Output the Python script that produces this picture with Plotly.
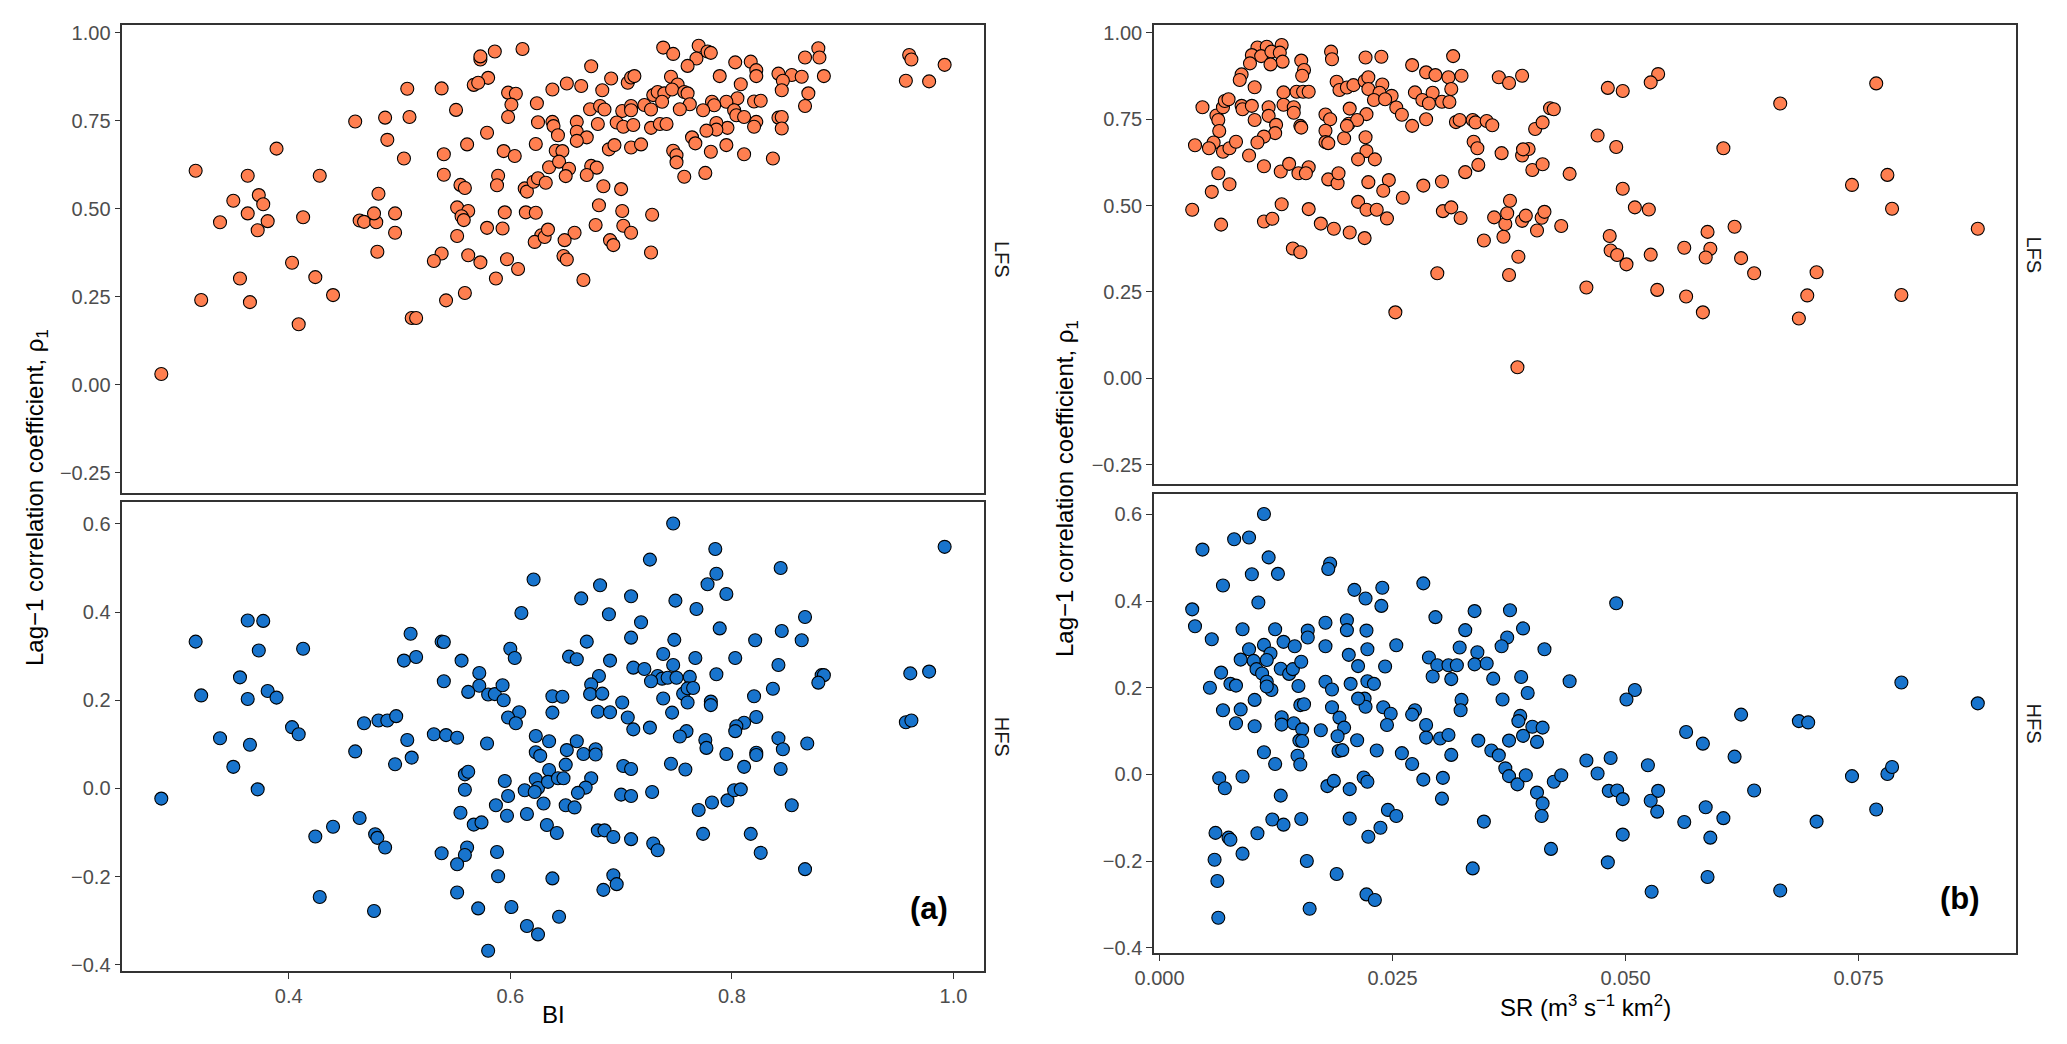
import plotly.graph_objects as go

# Panel (a): baseflow index (BI) vs lag-1 correlation
bi_lfs = [0.573, 0.573, 0.586, 0.611, 0.580, 0.567, 0.571, 0.507, 0.538, 0.598, 0.605, 0.601, 0.624, 0.551,
          0.598, 0.460, 0.487, 0.509, 0.625, 0.489, 0.579, 0.561, 0.623, 0.389, 0.540, 0.594, 0.604, 0.504,
          0.316, 0.363, 0.428, 0.540, 0.589, 0.588, 0.555, 0.559, 0.613, 0.615, 0.621, 0.625, 0.481, 0.373,
          0.350, 0.377, 0.363, 0.338, 0.381, 0.372, 0.413, 0.464, 0.468, 0.479, 0.477, 0.496, 0.496, 0.552,
          0.562, 0.556, 0.558, 0.595, 0.614, 0.623, 0.579, 0.593, 0.552, 0.628, 0.622, 0.631, 0.480, 0.538,
          0.531, 0.562, 0.573, 0.597, 0.607, 0.403, 0.356, 0.424, 0.587, 0.321, 0.365, 0.440, 0.542, 0.559,
          0.409, 0.511, 0.515, 0.285,
          0.738, 0.747, 0.770, 0.768, 0.778, 0.781, 0.760, 0.673, 0.803, 0.817, 0.822, 0.822, 0.789, 0.842,
          0.854, 0.863, 0.846, 0.878, 0.866, 0.879, 0.883, 0.845, 0.869, 0.866, 0.808, 0.805, 0.820, 0.826,
          0.795, 0.782, 0.784, 0.774, 0.802, 0.804, 0.811, 0.822, 0.820, 0.842, 0.845, 0.845, 0.796, 0.786,
          0.786, 0.777, 0.638, 0.651, 0.664, 0.683, 0.691, 0.706, 0.709, 0.712, 0.672, 0.681, 0.685, 0.701,
          0.709, 0.709, 0.721, 0.727, 0.729, 0.733, 0.739, 0.737, 0.745, 0.751, 0.746, 0.757, 0.760, 0.762,
          0.753, 0.638, 0.639, 0.643, 0.660, 0.660, 0.669, 0.660, 0.679, 0.696, 0.702, 0.711, 0.727, 0.735,
          0.741, 0.641, 0.647, 0.689, 0.694, 0.709, 0.718, 0.747, 0.750, 0.750, 0.764, 0.767, 0.781, 0.795,
          0.811, 0.837, 0.635, 0.644, 0.653, 0.673, 0.678, 0.669, 0.650, 0.632, 0.684, 0.700, 0.757, 0.776,
          0.680, 0.701, 0.728, 0.677, 0.702, 0.709, 0.634, 0.658, 0.649, 0.690, 0.693, 0.648, 0.651, 0.727,
          0.666, 0.960, 0.962, 0.992, 0.957, 0.978]
rho_bi_lfs = [0.924, 0.933, 0.947, 0.954, 0.872, 0.852, 0.858, 0.841, 0.842, 0.830, 0.827, 0.796, 0.800, 0.781,
              0.761, 0.748, 0.759, 0.761, 0.746, 0.696, 0.716, 0.683, 0.684, 0.671, 0.655, 0.664, 0.650, 0.643,
              0.608, 0.594, 0.594, 0.597, 0.594, 0.567, 0.568, 0.559, 0.558, 0.549, 0.577, 0.587, 0.543, 0.539,
              0.523, 0.513, 0.487, 0.462, 0.465, 0.439, 0.476, 0.467, 0.463, 0.462, 0.487, 0.487, 0.432, 0.504,
              0.494, 0.479, 0.468, 0.490, 0.490, 0.489, 0.446, 0.444, 0.423, 0.425, 0.406, 0.420, 0.378, 0.373,
              0.352, 0.368, 0.348, 0.357, 0.329, 0.347, 0.302, 0.306, 0.302, 0.241, 0.235, 0.255, 0.240, 0.261,
              0.172, 0.190, 0.190, 0.031,
              0.958, 0.940, 0.963, 0.927, 0.947, 0.943, 0.906, 0.905, 0.916, 0.918, 0.894, 0.877, 0.877, 0.884,
              0.880, 0.875, 0.864, 0.956, 0.930, 0.930, 0.877, 0.837, 0.828, 0.792, 0.854, 0.814, 0.805, 0.807,
              0.804, 0.804, 0.794, 0.780, 0.780, 0.766, 0.761, 0.747, 0.733, 0.759, 0.761, 0.728, 0.730, 0.744,
              0.725, 0.722, 0.839, 0.856, 0.849, 0.837, 0.870, 0.858, 0.873, 0.877, 0.783, 0.792, 0.782, 0.778,
              0.792, 0.780, 0.795, 0.782, 0.823, 0.832, 0.828, 0.804, 0.875, 0.853, 0.839, 0.832, 0.828, 0.797,
              0.783, 0.747, 0.735, 0.709, 0.747, 0.719, 0.703, 0.693, 0.741, 0.745, 0.733, 0.738, 0.730, 0.741,
              0.741, 0.665, 0.664, 0.669, 0.681, 0.674, 0.683, 0.665, 0.652, 0.632, 0.703, 0.686, 0.662, 0.681,
              0.655, 0.643, 0.618, 0.634, 0.614, 0.622, 0.617, 0.596, 0.593, 0.574, 0.564, 0.556, 0.591, 0.602,
              0.510, 0.494, 0.483, 0.454, 0.452, 0.432, 0.441, 0.432, 0.411, 0.411, 0.397, 0.366, 0.356, 0.376,
              0.298, 0.937, 0.924, 0.909, 0.864, 0.862]

bi_hfs = [0.621, 0.610, 0.363, 0.377, 0.316, 0.373, 0.413, 0.510, 0.538, 0.540, 0.504, 0.515, 0.556, 0.540,
          0.600, 0.604, 0.572, 0.572, 0.562, 0.580, 0.586, 0.593, 0.594, 0.608, 0.598, 0.605, 0.356, 0.321,
          0.363, 0.381, 0.389, 0.403, 0.409, 0.338, 0.365, 0.350, 0.372, 0.285, 0.468, 0.481, 0.489, 0.497,
          0.460, 0.507, 0.511, 0.496, 0.531, 0.542, 0.552, 0.579, 0.623, 0.623, 0.627, 0.623, 0.625, 0.613,
          0.622, 0.630, 0.559, 0.562, 0.559, 0.595, 0.598, 0.587, 0.597, 0.615, 0.555, 0.567, 0.574, 0.464,
          0.440, 0.424, 0.478, 0.480, 0.487, 0.538, 0.561, 0.559, 0.552, 0.588, 0.589, 0.428, 0.477, 0.552,
          0.571, 0.601, 0.615, 0.625, 0.580,
          0.747, 0.785, 0.726, 0.786, 0.778, 0.795, 0.681, 0.664, 0.709, 0.749, 0.768, 0.689, 0.718, 0.789,
          0.844, 0.866, 0.845, 0.821, 0.863, 0.669, 0.709, 0.748, 0.653, 0.660, 0.690, 0.738, 0.747, 0.767,
          0.803, 0.842, 0.786, 0.711, 0.721, 0.733, 0.737, 0.742, 0.750, 0.762, 0.727, 0.881, 0.883, 0.878,
          0.680, 0.673, 0.672, 0.683, 0.638, 0.647, 0.638, 0.679, 0.690, 0.701, 0.706, 0.711, 0.726, 0.738,
          0.746, 0.756, 0.760, 0.765, 0.760, 0.781, 0.781, 0.820, 0.837, 0.822, 0.811, 0.804, 0.803, 0.759,
          0.753, 0.635, 0.660, 0.651, 0.666, 0.677, 0.677, 0.650, 0.635, 0.634, 0.643, 0.648, 0.673, 0.668,
          0.661, 0.702, 0.709, 0.745, 0.758, 0.776, 0.777, 0.795, 0.822, 0.822, 0.842, 0.846, 0.868, 0.811,
          0.844, 0.650, 0.658, 0.700, 0.709, 0.728, 0.770, 0.782, 0.796, 0.802, 0.808, 0.854, 0.633, 0.642,
          0.679, 0.685, 0.693, 0.709, 0.729, 0.733, 0.774, 0.817, 0.826, 0.866, 0.638, 0.693, 0.696, 0.684,
          0.644, 0.992, 0.961, 0.978, 0.957, 0.962]
rho_bi_hfs = [0.474, 0.398, 0.381, 0.380, 0.333, 0.313, 0.317, 0.351, 0.333, 0.332, 0.290, 0.298, 0.290, 0.243,
              0.317, 0.296, 0.262, 0.233, 0.219, 0.213, 0.214, 0.234, 0.200, 0.173, 0.161, 0.148, 0.252, 0.211,
              0.203, 0.221, 0.206, 0.139, 0.123, 0.114, 0.099, 0.049, -0.002, -0.023, 0.148, 0.154, 0.154, 0.164,
              0.084, 0.110, 0.070, 0.055, 0.123, 0.121, 0.115, 0.102, 0.119, 0.082, 0.074, 0.021, 0.001, -0.004,
              -0.008, -0.034, 0.032, 0.038, -0.003, 0.017, -0.017, -0.038, -0.062, -0.058, -0.055, -0.082, -0.077, -0.067,
              -0.087, -0.109, -0.104, -0.112, -0.134, -0.147, -0.134, -0.151, -0.172, -0.144, -0.199, -0.246, -0.278, -0.236,
              -0.272, -0.269, -0.312, -0.331, -0.368,
              0.601, 0.543, 0.519, 0.487, 0.463, 0.441, 0.461, 0.431, 0.436, 0.426, 0.407, 0.395, 0.377, 0.363,
              0.500, 0.389, 0.357, 0.336, 0.336, 0.333, 0.342, 0.337, 0.299, 0.293, 0.290, 0.305, 0.280, 0.296,
              0.296, 0.280, 0.259, 0.274, 0.271, 0.255, 0.249, 0.251, 0.251, 0.253, 0.243, 0.257, 0.257, 0.240,
              0.255, 0.236, 0.214, 0.215, 0.209, 0.208, 0.172, 0.174, 0.173, 0.195, 0.161, 0.134, 0.138, 0.204,
              0.172, 0.215, 0.227, 0.228, 0.195, 0.197, 0.189, 0.209, 0.226, 0.162, 0.149, 0.141, 0.130, 0.130,
              0.118, 0.107, 0.107, 0.087, 0.078, 0.089, 0.077, 0.054, 0.042, 0.015, 0.023, 0.023, 0.023, 0.002,
              -0.010, 0.051, 0.044, 0.056, 0.043, 0.110, 0.092, 0.078, 0.081, 0.076, 0.114, 0.089, 0.102, 0.049,
              0.044, -0.038, -0.043, -0.014, -0.017, -0.008, -0.049, -0.032, -0.027, -0.004, -0.002, -0.038, -0.083, -0.101,
              -0.095, -0.095, -0.110, -0.115, -0.125, -0.140, -0.103, -0.103, -0.146, -0.183, -0.204, -0.197, -0.217, -0.230,
              -0.291, 0.548, 0.261, 0.265, 0.150, 0.154]

# Panel (b): specific runoff (SR) vs lag-1 correlation
sr_lfs = [0.0105, 0.0115, 0.0131, 0.0099, 0.0109, 0.0120, 0.0129, 0.0132, 0.0119, 0.0097, 0.0088, 0.0086,
          0.0102, 0.0152, 0.0155, 0.0153, 0.0184, 0.0185, 0.0221, 0.0238, 0.0271, 0.0315, 0.0286, 0.0296,
          0.0310, 0.0324, 0.0364, 0.0375, 0.0389, 0.0133, 0.0147, 0.0154, 0.0160, 0.0133, 0.0144, 0.0144,
          0.0151, 0.0152, 0.0190, 0.0193, 0.0201, 0.0208, 0.0220, 0.0224, 0.0224, 0.0239, 0.0236, 0.0249,
          0.0230, 0.0242, 0.0254, 0.0260, 0.0274, 0.0282, 0.0293, 0.0289, 0.0303, 0.0311, 0.0313, 0.0046,
          0.0061, 0.0063, 0.0068, 0.0070, 0.0074, 0.0088, 0.0089, 0.0099, 0.0102, 0.0117, 0.0117, 0.0125,
          0.0124, 0.0112, 0.0105, 0.0064, 0.0058, 0.0053, 0.0068, 0.0075, 0.0082, 0.0038, 0.0096, 0.0178,
          0.0183, 0.0178, 0.0178, 0.0181, 0.0204, 0.0222, 0.0198, 0.0203, 0.0212, 0.0201, 0.0221, 0.0222,
          0.0213, 0.0231, 0.0271, 0.0286, 0.0318, 0.0322, 0.0336, 0.0339, 0.0351, 0.0357, 0.0337, 0.0341,
          0.0367, 0.0389, 0.0396, 0.0390, 0.0403, 0.0411, 0.0419, 0.0423, 0.0063, 0.0075, 0.0056, 0.0112,
          0.0130, 0.0139, 0.0160, 0.0149, 0.0157, 0.0181, 0.0191, 0.0192, 0.0224, 0.0246, 0.0240, 0.0261,
          0.0283, 0.0303, 0.0328, 0.0342, 0.0400, 0.0411, 0.0440, 0.0035, 0.0066, 0.0112, 0.0121, 0.0131,
          0.0160, 0.0173, 0.0187, 0.0204, 0.0220, 0.0213, 0.0222, 0.0233, 0.0244, 0.0304, 0.0313, 0.0323,
          0.0348, 0.0359, 0.0369, 0.0371, 0.0373, 0.0376, 0.0389, 0.0393, 0.0405, 0.0410, 0.0413, 0.0431,
          0.0143, 0.0151, 0.0298, 0.0385, 0.0375, 0.0253, 0.0384,
          0.0535, 0.0527, 0.0481, 0.0497, 0.0666, 0.0769, 0.0470, 0.0490, 0.0605, 0.0497, 0.0510, 0.0525,
          0.0743, 0.0781, 0.0786, 0.0878, 0.0483, 0.0484, 0.0491, 0.0501, 0.0527, 0.0563, 0.0588, 0.0591,
          0.0586, 0.0617, 0.0624, 0.0638, 0.0705, 0.0458, 0.0534, 0.0565, 0.0583, 0.0695, 0.0686, 0.0796]
rho_sr_lfs = [0.958, 0.960, 0.965, 0.936, 0.933, 0.946, 0.943, 0.917, 0.909, 0.912, 0.880, 0.864,
              0.843, 0.920, 0.893, 0.876, 0.946, 0.924, 0.929, 0.931, 0.907, 0.933, 0.886, 0.878,
              0.872, 0.876, 0.872, 0.855, 0.876, 0.828, 0.830, 0.830, 0.830, 0.792, 0.785, 0.769,
              0.731, 0.726, 0.859, 0.835, 0.842, 0.849, 0.861, 0.872, 0.838, 0.851, 0.827, 0.818,
              0.806, 0.808, 0.784, 0.763, 0.828, 0.806, 0.827, 0.796, 0.801, 0.800, 0.838, 0.785,
              0.761, 0.748, 0.785, 0.803, 0.808, 0.789, 0.779, 0.789, 0.748, 0.785, 0.760, 0.734,
              0.710, 0.700, 0.683, 0.716, 0.683, 0.666, 0.656, 0.666, 0.685, 0.675, 0.645, 0.764,
              0.750, 0.717, 0.684, 0.681, 0.781, 0.765, 0.695, 0.737, 0.748, 0.731, 0.698, 0.658,
              0.634, 0.634, 0.731, 0.750, 0.742, 0.748, 0.748, 0.741, 0.745, 0.733, 0.685, 0.666,
              0.652, 0.645, 0.664, 0.663, 0.722, 0.741, 0.782, 0.779, 0.594, 0.562, 0.540, 0.614,
              0.599, 0.621, 0.611, 0.594, 0.594, 0.576, 0.565, 0.594, 0.568, 0.574, 0.543, 0.523,
              0.558, 0.570, 0.597, 0.618, 0.603, 0.620, 0.592, 0.488, 0.445, 0.454, 0.462, 0.504,
              0.490, 0.448, 0.433, 0.422, 0.406, 0.511, 0.488, 0.488, 0.463, 0.484, 0.495, 0.464,
              0.399, 0.466, 0.410, 0.447, 0.478, 0.514, 0.456, 0.471, 0.428, 0.465, 0.482, 0.441,
              0.376, 0.365, 0.304, 0.352, 0.299, 0.191, 0.032,
              0.881, 0.857, 0.841, 0.832, 0.796, 0.854, 0.703, 0.670, 0.666, 0.549, 0.495, 0.489,
              0.560, 0.589, 0.491, 0.433, 0.412, 0.370, 0.357, 0.330, 0.358, 0.378, 0.424, 0.375,
              0.350, 0.439, 0.348, 0.304, 0.307, 0.263, 0.256, 0.237, 0.191, 0.240, 0.173, 0.241]

sr_hfs = [0.0112, 0.0080, 0.0096, 0.0046, 0.0117, 0.0099, 0.0127, 0.0068, 0.0106, 0.0035, 0.0038, 0.0056,
          0.0089, 0.0124, 0.0133, 0.0145, 0.0112, 0.0119, 0.0096, 0.0087, 0.0101, 0.0115, 0.0104, 0.0110,
          0.0115, 0.0120, 0.0115, 0.0066, 0.0076, 0.0082, 0.0054, 0.0102, 0.0068, 0.0087, 0.0082, 0.0102,
          0.0130, 0.0139, 0.0143, 0.0152, 0.0159, 0.0159, 0.0149, 0.0151, 0.0155, 0.0131, 0.0131, 0.0144,
          0.0153, 0.0150, 0.0153, 0.0148, 0.0151, 0.0124, 0.0112, 0.0064, 0.0070, 0.0089, 0.0130, 0.0178,
          0.0183, 0.0181, 0.0178, 0.0201, 0.0201, 0.0209, 0.0221, 0.0239, 0.0238, 0.0222, 0.0223, 0.0203,
          0.0213, 0.0178, 0.0185, 0.0205, 0.0223, 0.0230, 0.0185, 0.0193, 0.0198, 0.0191, 0.0173, 0.0212,
          0.0192, 0.0196, 0.0233, 0.0220, 0.0221, 0.0213, 0.0240, 0.0248, 0.0244, 0.0254, 0.0242, 0.0283,
          0.0296, 0.0328, 0.0338, 0.0376, 0.0390, 0.0373, 0.0367, 0.0413, 0.0322, 0.0341, 0.0289, 0.0298,
          0.0310, 0.0319, 0.0338, 0.0351, 0.0293, 0.0313, 0.0358, 0.0388, 0.0395, 0.0440, 0.0324, 0.0323,
          0.0368, 0.0274, 0.0271, 0.0286, 0.0286, 0.0301, 0.0310, 0.0313, 0.0342, 0.0375, 0.0387, 0.0390,
          0.0400, 0.0411, 0.0385, 0.0405, 0.0356, 0.0364, 0.0260, 0.0271, 0.0180, 0.0187, 0.0204, 0.0219,
          0.0223, 0.0283, 0.0304, 0.0303, 0.0371, 0.0375, 0.0384, 0.0393, 0.0405, 0.0411, 0.0410, 0.0423,
          0.0431, 0.0060, 0.0074, 0.0076, 0.0105, 0.0121, 0.0133, 0.0152, 0.0089, 0.0059, 0.0062, 0.0063,
          0.0158, 0.0161, 0.0190, 0.0204, 0.0224, 0.0237, 0.0245, 0.0254, 0.0348, 0.0420, 0.0336, 0.0222,
          0.0231,
          0.0490, 0.0510, 0.0501, 0.0624, 0.0686, 0.0696, 0.0565, 0.0583, 0.0796, 0.0878, 0.0458, 0.0484,
          0.0470, 0.0524, 0.0617, 0.0482, 0.0491, 0.0497, 0.0527, 0.0535, 0.0534, 0.0586, 0.0605, 0.0563,
          0.0591, 0.0497, 0.0481, 0.0588, 0.0528, 0.0666, 0.0638, 0.0705, 0.0743, 0.0781, 0.0786, 0.0769]
rho_sr_hfs = [0.601, 0.543, 0.547, 0.519, 0.501, 0.462, 0.463, 0.436, 0.397, 0.381, 0.342, 0.312,
              0.335, 0.335, 0.306, 0.296, 0.299, 0.279, 0.289, 0.265, 0.262, 0.264, 0.243, 0.233,
              0.214, 0.195, 0.203, 0.235, 0.209, 0.205, 0.200, 0.172, 0.148, 0.150, 0.118, 0.111,
              0.244, 0.232, 0.243, 0.260, 0.332, 0.316, 0.204, 0.160, 0.162, 0.132, 0.115, 0.118,
              0.104, 0.078, 0.077, 0.043, 0.023, 0.024, 0.051, -0.009, -0.032, -0.005, -0.049, 0.350,
              0.487, 0.474, 0.296, 0.356, 0.333, 0.426, 0.406, 0.431, 0.389, 0.332, 0.289, 0.276,
              0.250, 0.214, 0.196, 0.209, 0.215, 0.209, 0.155, 0.131, 0.108, 0.088, 0.102, 0.079,
              0.054, 0.056, 0.055, 0.175, 0.156, 0.175, 0.155, 0.140, 0.114, 0.298, 0.249, 0.441,
              0.363, 0.333, 0.377, 0.379, 0.337, 0.316, 0.296, 0.289, 0.293, 0.282, 0.270, 0.252,
              0.252, 0.252, 0.254, 0.256, 0.226, 0.220, 0.221, 0.225, 0.188, 0.215, 0.172, 0.148,
              0.173, 0.148, 0.138, 0.114, 0.085, 0.083, 0.091, 0.045, 0.078, 0.078, 0.135, 0.089,
              0.110, 0.108, 0.123, 0.075, 0.055, 0.044, 0.049, 0.024, -0.027, -0.015, -0.034, -0.007,
              -0.017, -0.012, -0.008, -0.056, 0.014, -0.004, -0.023, -0.002, -0.042, -0.067, -0.096, -0.017,
              -0.002, -0.135, -0.146, -0.151, -0.136, -0.104, -0.116, -0.103, -0.183, -0.197, -0.246, -0.331,
              -0.200, -0.310, -0.230, -0.102, -0.144, -0.123, -0.082, -0.096, -0.109, -0.172, -0.217, -0.277,
              -0.290,
              0.395, 0.195, 0.173, 0.138, 0.123, 0.120, 0.098, 0.071, 0.212, 0.164, 0.032, 0.038,
              0.002, 0.021, 0.041, -0.038, -0.037, -0.057, -0.061, -0.038, -0.086, -0.076, -0.101, -0.110,
              -0.146, -0.139, -0.203, -0.237, -0.271, -0.268, -0.037, -0.109, -0.004, 0.001, 0.017, -0.081]

LFS_COLOR = "#FF7F50"
HFS_COLOR = "#1874CD"
FONT = "Liberation Sans, Arial, sans-serif"
W, H = 2067, 1044

fig = go.Figure()

panels = [
    (bi_lfs, rho_bi_lfs, LFS_COLOR, "x", "y"),
    (bi_hfs, rho_bi_hfs, HFS_COLOR, "x2", "y2"),
    (sr_lfs, rho_sr_lfs, LFS_COLOR, "x3", "y3"),
    (sr_hfs, rho_sr_hfs, HFS_COLOR, "x4", "y4"),
]
for xs, ys, col, xa, ya in panels:
    fig.add_trace(go.Scatter(
        x=xs, y=ys, mode="markers", xaxis=xa, yaxis=ya, showlegend=False,
        marker=dict(size=13, color=col, line=dict(color="black", width=1.1)),
    ))

# common axis look (ggplot theme_bw without grid)
box = dict(showline=True, mirror=True, linecolor="#333333", linewidth=1.5,
           showgrid=False, zeroline=False, ticks="outside", ticklen=6,
           tickwidth=1.2, tickcolor="#333333", automargin=False,
           tickfont=dict(family=FONT, size=20, color="#4D4D4D"))

# pixel boxes of each panel -> paper domains
def dom_x(a, b):
    return [a / W, b / W]

def dom_y(top, bottom):
    return [1 - bottom / H, 1 - top / H]

bi_range = [0.2498, 1.0278]
sr_range = [-0.0006, 0.0919]

fig.update_layout(
    width=W, height=H,
    margin=dict(l=0, r=0, t=0, b=0),
    plot_bgcolor="white", paper_bgcolor="white",
    font=dict(family=FONT),
    xaxis=dict(box, domain=dom_x(122.3, 984.3), range=bi_range, anchor="y",
               showticklabels=False, ticks=""),
    yaxis=dict(box, domain=dom_y(24.7, 493.3), range=[-0.308, 1.023], anchor="x",
               tickvals=[-0.25, 0, 0.25, 0.5, 0.75, 1.0], tickformat=".2f"),
    xaxis2=dict(box, domain=dom_x(122.3, 984.3), range=bi_range, anchor="y2",
                tickvals=[0.4, 0.6, 0.8, 1.0], tickformat=".1f"),
    yaxis2=dict(box, domain=dom_y(502.3, 971.0), range=[-0.414, 0.649], anchor="x2",
                tickvals=[-0.4, -0.2, 0, 0.2, 0.4, 0.6], tickformat=".1f"),
    xaxis3=dict(box, domain=dom_x(1154, 2016), range=sr_range, anchor="y3",
                showticklabels=False, ticks=""),
    yaxis3=dict(box, domain=dom_y(24.7, 484.3), range=[-0.307, 1.024], anchor="x3",
                tickvals=[-0.25, 0, 0.25, 0.5, 0.75, 1.0], tickformat=".2f"),
    xaxis4=dict(box, domain=dom_x(1154, 2016), range=sr_range, anchor="y4",
                tickvals=[0, 0.025, 0.05, 0.075], tickformat=".3f"),
    yaxis4=dict(box, domain=dom_y(493.7, 953.3), range=[-0.413, 0.648], anchor="x4",
                tickvals=[-0.4, -0.2, 0, 0.2, 0.4, 0.6], tickformat=".1f"),
)

ytitle = "Lag\u22121 correlation coefficient, \u03c1<sub>1</sub>"
notes = [
    # axis titles
    dict(x=36 / W, y=1 - 498 / H, text=ytitle, textangle=-90, size=24, color="black"),
    dict(x=1066 / W, y=1 - 489 / H, text=ytitle, textangle=-90, size=24, color="black"),
    dict(x=553 / W, y=1 - 1014 / H, text="BI", textangle=0, size=24, color="black"),
    dict(x=1585 / W, y=1 - 1006 / H,
         text="SR (m<sup>3</sup> s<sup>\u22121</sup> km<sup>2</sup>)", textangle=0, size=24, color="black"),
    # facet strips
    dict(x=1002 / W, y=1 - 259 / H, text="LFS", textangle=90, size=20, color="#1A1A1A"),
    dict(x=1002 / W, y=1 - 736.7 / H, text="HFS", textangle=90, size=20, color="#1A1A1A"),
    dict(x=2034 / W, y=1 - 254.5 / H, text="LFS", textangle=90, size=20, color="#1A1A1A"),
    dict(x=2034 / W, y=1 - 723.5 / H, text="HFS", textangle=90, size=20, color="#1A1A1A"),
    # panel tags
    dict(x=929 / W, y=1 - 908 / H, text="<b>(a)</b>", textangle=0, size=31, color="black"),
    dict(x=1960 / W, y=1 - 898 / H, text="<b>(b)</b>", textangle=0, size=31, color="black"),
]
for n in notes:
    fig.add_annotation(x=n["x"], y=n["y"], xref="paper", yref="paper", text=n["text"],
                       textangle=n["textangle"], showarrow=False, xanchor="center", yanchor="middle",
                       font=dict(family=FONT, size=n["size"], color=n["color"]))

# the page's default body margin would shift the fixed-size figure
fig.write_html("out.html", config={"displayModeBar": False},
               post_script="document.body.style.margin='0px';")
